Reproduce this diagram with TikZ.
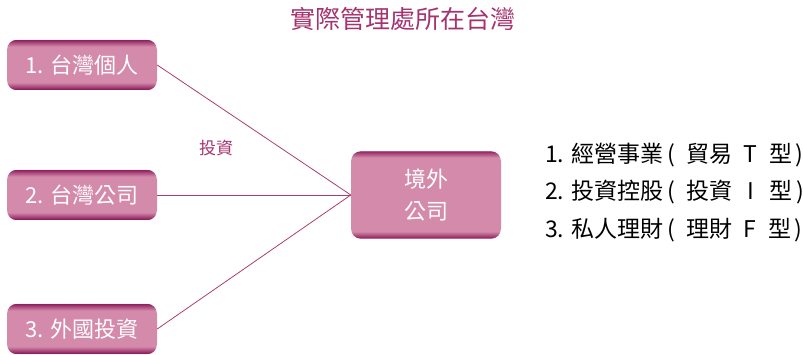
\documentclass[tikz,border=0pt]{standalone}
\usepackage{fontspec}
\setmainfont{Noto Sans CJK TC}
\definecolor{boxlight}{HTML}{D48AAA}
\definecolor{boxdark}{HTML}{850E52}
\definecolor{titlec}{HTML}{A5336F}
\definecolor{linec}{HTML}{A8406F}
\newcommand{\edgeshade}[1]{%
  \begin{scope}
    \clip[rounded corners=10pt] (#1.north west) rectangle (#1.south east);
    \foreach \i in {0,...,6} {
      \fill[boxdark, fill opacity={0.85-\i*0.13}]
        ([yshift=-\i pt]#1.north west) rectangle ([yshift=-\i pt-1pt]#1.north east);
      \fill[boxdark, fill opacity={0.85-\i*0.13}]
        ([yshift=\i pt]#1.south west) rectangle ([yshift=\i pt+1pt]#1.south east);
    }
  \end{scope}}
\begin{document}
\begin{tikzpicture}[x=1pt,y=-1pt,
  pbox/.style={rounded corners=10pt, fill=boxlight, draw=none, text=white,
    font=\fontsize{22}{24}\selectfont, inner sep=0pt},
  conn/.style={draw=linec, line width=0.8pt},
  item/.style={anchor=west, font=\fontsize{23}{24}\selectfont, inner sep=0pt}]
\useasboundingbox (0,0) rectangle (803,355);
\node[pbox, minimum width=150pt, minimum height=50pt] (b1) at (82,65) {1. 台灣個人};
\node[pbox, minimum width=150pt, minimum height=50pt] (b2) at (82,195) {2. 台灣公司};
\node[pbox, minimum width=150pt, minimum height=50pt] (b3) at (82,329) {3. 外國投資};
\node[pbox, minimum width=150pt, minimum height=87pt, align=center] (c) at (426,195)
  {境外\\[8pt]公司};
\edgeshade{b1}\edgeshade{b2}\edgeshade{b3}\edgeshade{c}
\draw[conn] (b1.east) -- (c.west);
\draw[conn] (b2.east) -- (c.west);
\draw[conn] (b3.east) -- (c.west);
\node[text=titlec, font=\fontsize{17}{20}\selectfont] (inv) at (216,148) {投資};
\node[text=titlec, font=\fontsize{25}{28}\selectfont] (title) at (403,19) {實際管理處所在台灣};
\node[item] (t1) at (545,155) {1. 經營事業\,(\enspace 貿易\enspace T\enspace 型\,)};
\node[item] (t2) at (545,192) {2. 投資控股\,(\enspace 投資\enspace\,I\,\enspace 型\,)};
\node[item] (t3) at (545,230) {3. 私人理財\,(\enspace 理財\enspace F\enspace 型\,)};
\end{tikzpicture}
\end{document}
